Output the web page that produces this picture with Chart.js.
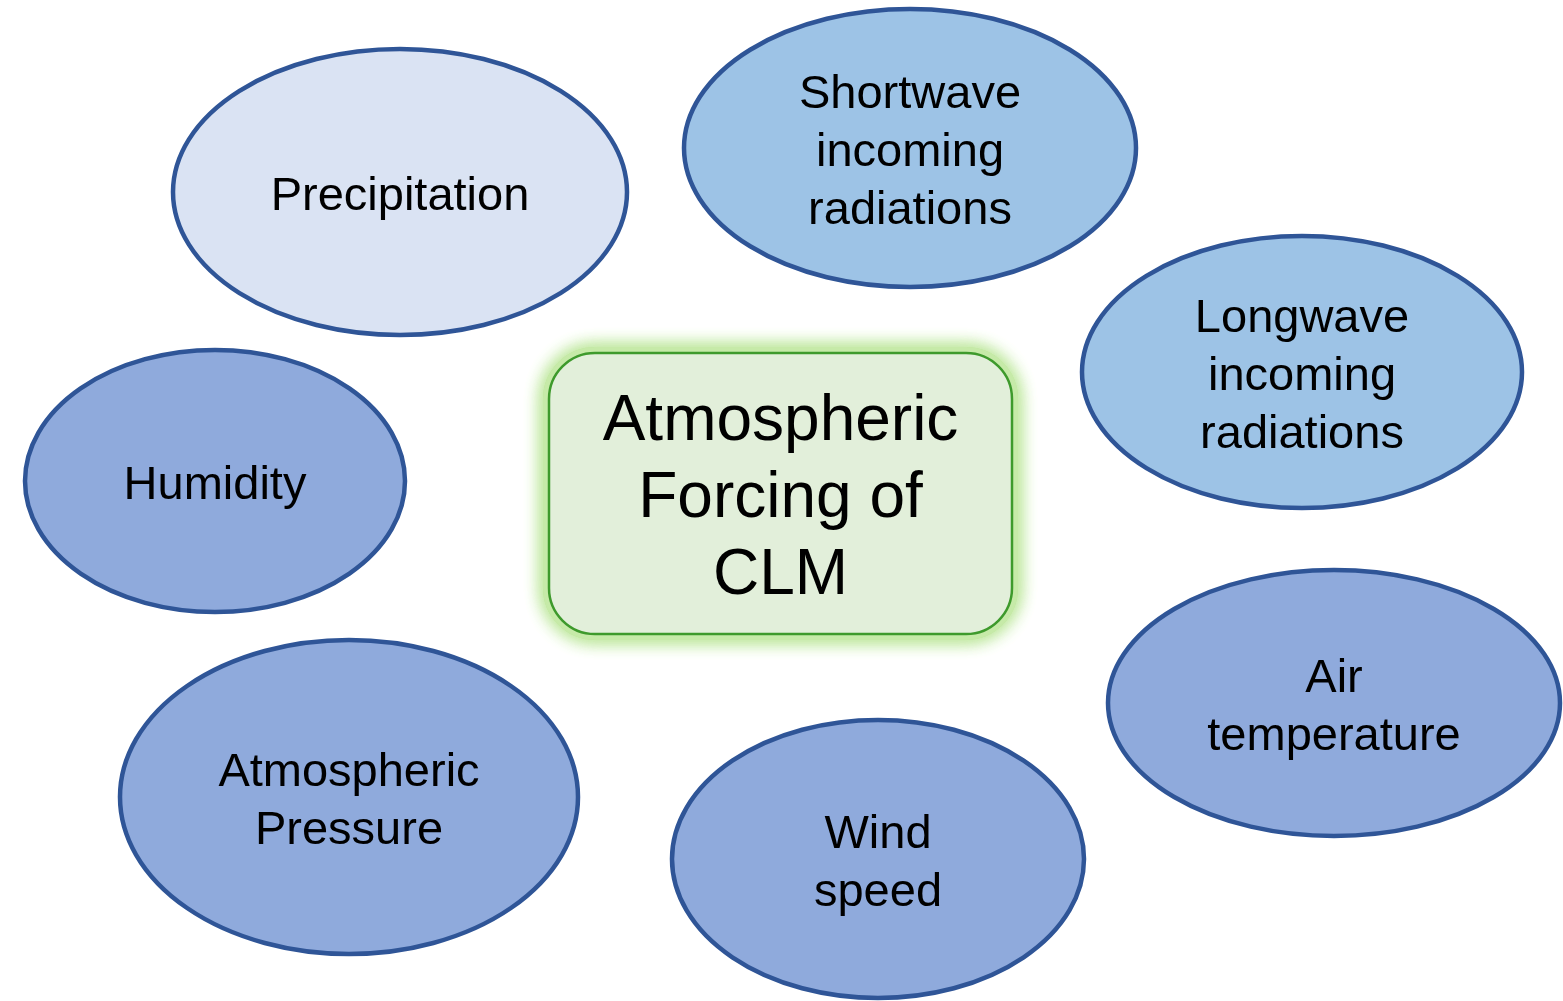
<!DOCTYPE html>
<html>
<head>
<meta charset="utf-8">
<title>Atmospheric Forcing of CLM</title>
<script src="https://cdn.jsdelivr.net/npm/chart.js@4"></script>
<style>
  html, body { margin: 0; padding: 0; background: #ffffff; }
  #diagram { display: block; }
</style>
</head>
<body>
<canvas id="diagram" width="1563" height="1001"></canvas>
<script>
// nodes of the diagram (page units, y grows downwards)
const nodeLabels = [
  ["Precipitation"],
  ["Shortwave", "incoming", "radiations"],
  ["Longwave", "incoming", "radiations"],
  ["Humidity"],
  ["Air", "temperature"],
  ["Atmospheric", "Pressure"],
  ["Wind", "speed"]
];
const nodeX = [400, 910, 1302, 215, 1334, 349, 878];
const nodeY = [192, 148, 372, 481, 703, 797, 859];
const nodeRx = [227, 226, 220, 190, 226, 229, 206];
const nodeRy = [143, 139, 136, 131, 133, 157, 139];
const nodeGroup = [0, 1, 1, 2, 2, 2, 2];

const centerLabel = ["Atmospheric", "Forcing of", "CLM"];
const centerX = [549, 1012];
const centerY = [353, 634];

const groupFill = ["#DAE3F3", "#9DC3E6", "#8FAADC"];

const fontFamily = "'Liberation Sans', Arial, sans-serif";

const diagramPlugin = {
  id: "diagramPlugin",
  afterDatasetsDraw(chart) {
    const ctx = chart.ctx;
    const xs = chart.scales.x;
    const ys = chart.scales.y;

    // central box with soft green glow
    const bx0 = xs.getPixelForValue(centerX[0]);
    const bx1 = xs.getPixelForValue(centerX[1]);
    const by0 = ys.getPixelForValue(centerY[0]);
    const by1 = ys.getPixelForValue(centerY[1]);
    ctx.save();
    ctx.beginPath();
    ctx.roundRect(bx0, by0, bx1 - bx0, by1 - by0, 46);
    ctx.shadowColor = "rgba(176, 226, 136, 1)";
    ctx.shadowBlur = 18;
    ctx.lineWidth = 12;
    ctx.strokeStyle = "#C6EAA8";
    ctx.stroke();
    ctx.stroke();
    ctx.shadowColor = "transparent";
    ctx.shadowBlur = 0;
    ctx.fillStyle = "#E2EFDA";
    ctx.fill();
    ctx.lineWidth = 2.5;
    ctx.strokeStyle = "#3E9A2C";
    ctx.stroke();
    ctx.fillStyle = "#000000";
    ctx.font = "64px " + fontFamily;
    ctx.textAlign = "center";
    ctx.textBaseline = "middle";
    const bcx = (bx0 + bx1) / 2;
    const bcy = (by0 + by1) / 2;
    centerLabel.forEach((line, i) => {
      ctx.fillText(line, bcx, bcy + 6 + (i - (centerLabel.length - 1) / 2) * 77);
    });
    ctx.restore();

    // ellipses
    const meta = chart.getDatasetMeta(0);
    meta.data.forEach((pt, i) => {
      const rx = Math.abs(xs.getPixelForValue(nodeX[i] + nodeRx[i]) - pt.x);
      const ry = Math.abs(ys.getPixelForValue(nodeY[i] + nodeRy[i]) - pt.y);
      ctx.save();
      ctx.beginPath();
      ctx.ellipse(pt.x, pt.y, rx, ry, 0, 0, Math.PI * 2);
      ctx.fillStyle = groupFill[nodeGroup[i]];
      ctx.fill();
      ctx.lineWidth = 4.5;
      ctx.strokeStyle = "#2F5597";
      ctx.stroke();
      ctx.fillStyle = "#000000";
      ctx.font = "47px " + fontFamily;
      ctx.textAlign = "center";
      ctx.textBaseline = "middle";
      const lines = nodeLabels[i];
      lines.forEach((line, j) => {
        ctx.fillText(line, pt.x, pt.y + 5 + (j - (lines.length - 1) / 2) * 58);
      });
      ctx.restore();
    });
  }
};

new Chart(document.getElementById("diagram"), {
  type: "scatter",
  data: {
    labels: nodeLabels.map(l => l.join(" ")),
    datasets: [{
      label: "Forcing variables",
      data: nodeX.map((x, i) => ({ x: x, y: nodeY[i] })),
      pointRadius: 0,
      pointHoverRadius: 0
    }]
  },
  options: {
    responsive: false,
    animation: false,
    layout: { padding: 0 },
    plugins: {
      legend: { display: false },
      tooltip: { enabled: false }
    },
    scales: {
      x: { type: "linear", min: 0, max: 1563, display: false },
      y: { type: "linear", min: 0, max: 1001, reverse: true, display: false }
    }
  },
  plugins: [diagramPlugin]
});
</script>
</body>
</html>
